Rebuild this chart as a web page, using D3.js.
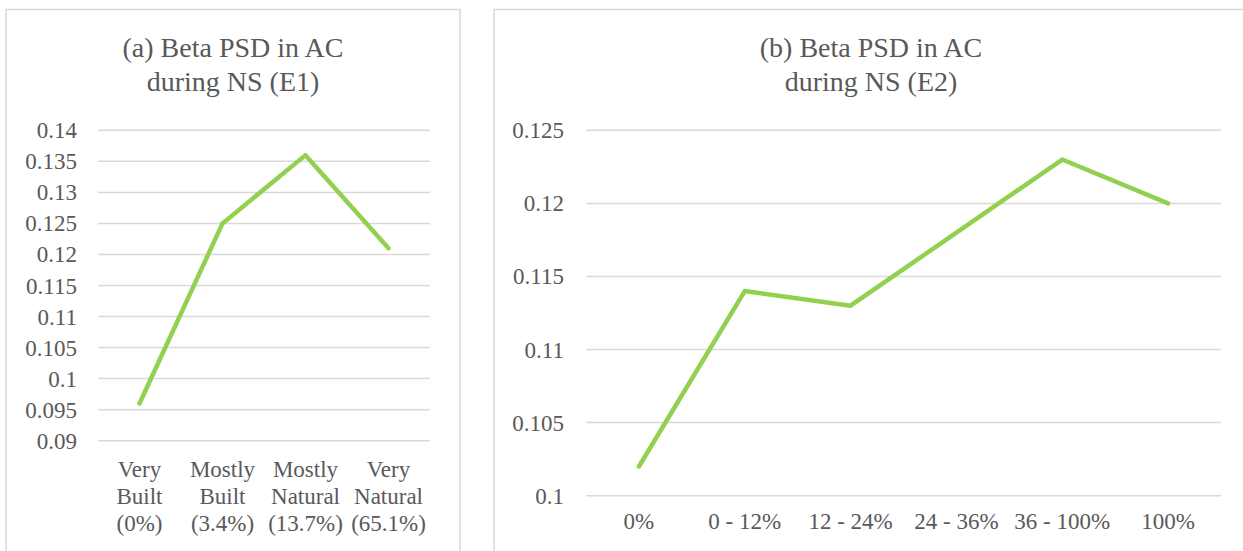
<!DOCTYPE html>
<html>
<head>
<meta charset="utf-8">
<script src="https://cdn.jsdelivr.net/npm/d3@7"></script>
</head>
<body style="margin:0">
<svg id="chart" width="1243" height="551"></svg>
<script>
// ---- data ----
const catsA = ["Very\nBuilt\n(0%)", "Mostly\nBuilt\n(3.4%)", "Mostly\nNatural\n(13.7%)", "Very\nNatural\n(65.1%)"];
const valuesA = [0.096, 0.125, 0.136, 0.121];
const yTicksA = [0.09, 0.095, 0.1, 0.105, 0.11, 0.115, 0.12, 0.125, 0.13, 0.135, 0.14];
const titleA = ["(a) Beta PSD in AC", "during NS (E1)"];

const catsB = ["0%", "0 - 12%", "12 - 24%", "24 - 36%", "36 - 100%", "100%"];
const valuesB = [0.102, 0.114, 0.113, 0.118, 0.123, 0.120];
const yTicksB = [0.1, 0.105, 0.11, 0.115, 0.12, 0.125];
const titleB = ["(b) Beta PSD in AC", "during NS (E2)"];

const lineColor = "#92D050";
const gridColor = "#D9D9D9";
const textColor = "#595959";
const FONT = "serif";
const fmt = d => String(+d.toFixed(3));

const svg = d3.select("#chart");

function label(x, y, s, size, anchor) {
  svg.append("text")
    .attr("x", x).attr("y", y)
    .attr("font-family", FONT)
    .attr("font-size", size)
    .attr("fill", textColor)
    .attr("text-anchor", anchor)
    .text(s);
}

function panel(cfg) {
  svg.append("rect")
    .attr("x", cfg.box[0]).attr("y", cfg.box[1])
    .attr("width", cfg.box[2]).attr("height", cfg.box[3])
    .attr("fill", "#fff").attr("stroke", gridColor).attr("stroke-width", 1.5);

  const x = d3.scaleBand().domain(cfg.cats).range([cfg.x0, cfg.x1]).padding(0);
  const y = d3.scaleLinear().domain([cfg.yTicks[0], cfg.yTicks[cfg.yTicks.length - 1]]).range([cfg.yBottom, cfg.yTop]);

  svg.selectAll(null)
    .data(cfg.yTicks)
    .join("line")
    .attr("x1", cfg.x0).attr("x2", cfg.x1)
    .attr("y1", d => y(d)).attr("y2", d => y(d))
    .attr("stroke", gridColor).attr("stroke-width", 1.5);

  const line = d3.line()
    .x((d, i) => x(cfg.cats[i]) + x.bandwidth() / 2)
    .y(d => y(d));
  svg.append("path")
    .datum(cfg.values)
    .attr("d", line)
    .attr("fill", "none")
    .attr("stroke", lineColor)
    .attr("stroke-width", 4.5)
    .attr("stroke-linejoin", "round")
    .attr("stroke-linecap", "round");

  cfg.title.forEach((s, i) => label(cfg.titleX, cfg.titleY + i * 34, s, 28, "middle"));
  cfg.yTicks.forEach(v => label(cfg.x0 - cfg.tickPad, y(v) + 8, fmt(v), 23, "end"));
  cfg.cats.forEach(c => {
    const cx = x(c) + x.bandwidth() / 2;
    c.split("\n").forEach((s, i) => label(cx, cfg.yBottom + cfg.xLabelY + i * 27, s, 23, "middle"));
  });
}

panel({
  box: [6, 9.5, 454, 560],
  title: titleA, titleX: 233, titleY: 57,
  cats: catsA, values: valuesA, yTicks: yTicksA,
  x0: 98, x1: 430, yTop: 130.3, yBottom: 440.7,
  tickPad: 21, xLabelY: 36
});

panel({
  box: [494, 9.5, 760, 560],
  title: titleB, titleX: 871, titleY: 57,
  cats: catsB, values: valuesB, yTicks: yTicksB,
  x0: 586, x1: 1221, yTop: 130.3, yBottom: 495.7,
  tickPad: 22, xLabelY: 33.5
});
</script>
</body>
</html>
